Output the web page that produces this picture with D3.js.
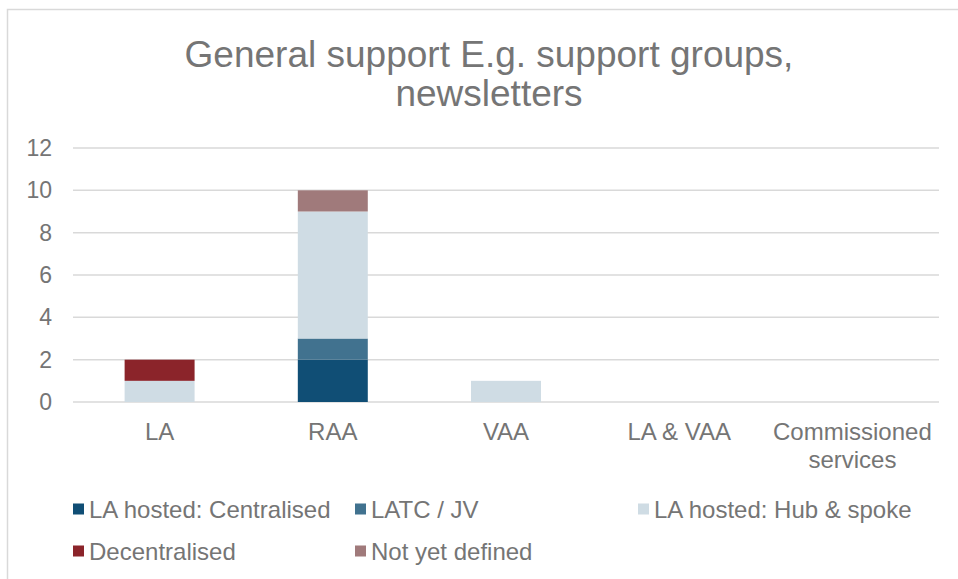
<!DOCTYPE html>
<html>
<head>
<meta charset="utf-8">
<script src="https://cdn.jsdelivr.net/npm/d3@7"></script>
<style>
	body { margin: 0; background: #fff; }
	text { font-family: "Liberation Sans", Arial, sans-serif; fill: #757575; }
</style>
</head>
<body>
<div id="chart"></div>
<script>

var categories = ["LA", "RAA", "VAA", "LA & VAA", "Commissioned services"];
var seriesNames = ["LA hosted: Centralised", "LATC / JV", "LA hosted: Hub & spoke", "Decentralised", "Not yet defined"];
var seriesColours = ["#104e75", "#41728f", "#cfdce4", "#8b242a", "#a07a7b"];
// values per series, in category order
var centralised = [0, 2, 0, 0, 0];
var latcJv      = [0, 1, 0, 0, 0];
var hubSpoke    = [1, 6, 1, 0, 0];
var decentral   = [1, 0, 0, 0, 0];
var notDefined  = [0, 1, 0, 0, 0];
var yTicks = [0, 2, 4, 6, 8, 10, 12];

var width = 958, height = 579;
var margin = { "top": 148, "right": 19, "bottom": 177, "left": 73 };

var svg = d3.select("#chart").append("svg")
	.attr("width", width)
	.attr("height", height);

// chart frame
svg.append("rect")
	.attr("x", 7.5)
	.attr("y", 9.5)
	.attr("width", 980)
	.attr("height", 600)
	.attr("fill", "none")
	.attr("stroke", "#d9d9d9")
	.attr("stroke-width", 1.5);

// title
var title = svg.append("text")
	.attr("text-anchor", "middle")
	.style("font-size", "37px");
title.append("tspan").attr("x", 489).attr("y", 67).text("General support E.g. support groups,");
title.append("tspan").attr("x", 489).attr("y", 106).text("newsletters");

var rows = categories.map(function(c, i) {
	return {
		cat: c,
		s0: centralised[i],
		s1: latcJv[i],
		s2: hubSpoke[i],
		s3: decentral[i],
		s4: notDefined[i]
	};
});
var keys = ["s0", "s1", "s2", "s3", "s4"];
var stacked = d3.stack().keys(keys)(rows);

var x = d3.scaleBand()
	.domain(categories)
	.range([margin.left, width - margin.right])
	.paddingInner(0.596)
	.paddingOuter(0.298);

var y = d3.scaleLinear()
	.domain([0, 12])
	.range([height - margin.bottom, margin.top]);

var g = svg.append("g");

// gridlines
g.selectAll("line.grid")
	.data(yTicks)
	.enter().append("line")
	.attr("class", "grid")
	.attr("x1", margin.left)
	.attr("x2", width - margin.right)
	.attr("y1", function(d) { return y(d); })
	.attr("y2", function(d) { return y(d); })
	.attr("stroke", "#d9d9d9")
	.attr("stroke-width", 1.5);

// y axis labels
var yAxis = d3.axisLeft(y).tickValues(yTicks).tickSize(0).tickPadding(21);
var yG = svg.append("g")
	.attr("transform", "translate(" + margin.left + ",0)")
	.call(yAxis);
yG.select(".domain").remove();
yG.selectAll("text")
	.style("font-size", "23px")
	.style("font-family", "'Liberation Sans', Arial, sans-serif")
	.attr("fill", "#757575");

// bars
var layers = g.selectAll("g.layer")
	.data(stacked)
	.enter().append("g")
	.attr("class", "layer")
	.attr("fill", function(d, i) { return seriesColours[i]; });

layers.selectAll("rect")
	.data(function(d) { return d; })
	.enter().append("rect")
	.filter(function(d) { return d[1] - d[0] > 0; })
	.attr("x", function(d) { return x(d.data.cat); })
	.attr("width", x.bandwidth())
	.attr("y", function(d) { return y(d[1]); })
	.attr("height", function(d) { return y(d[0]) - y(d[1]); });

// category labels
var catLabels = svg.selectAll("text.cat")
	.data(categories)
	.enter().append("text")
	.attr("class", "cat")
	.attr("text-anchor", "middle")
	.style("font-size", "24px");
catLabels.each(function(d) {
	var words = d == "Commissioned services" ? ["Commissioned", "services"] : [d];
	var t = d3.select(this);
	words.forEach(function(w, j) {
		t.append("tspan")
			.attr("x", x(d) + x.bandwidth() / 2)
			.attr("y", 440 + j * 28)
			.text(w);
	});
});

// legend
var legendPos = [[73, 509], [355, 509], [638, 509], [73, 551], [355, 551]];
var legend = svg.selectAll("g.legend")
	.data(seriesNames)
	.enter().append("g")
	.attr("class", "legend")
	.attr("transform", function(d, i) { return "translate(" + legendPos[i][0] + "," + legendPos[i][1] + ")"; });
legend.append("rect")
	.attr("x", 0)
	.attr("y", -5.5)
	.attr("width", 11)
	.attr("height", 11)
	.attr("fill", function(d, i) { return seriesColours[i]; });
legend.append("text")
	.attr("x", 16)
	.attr("y", 8.5)
	.style("font-size", "24px")
	.text(function(d) { return d; });

</script>
</body>
</html>
